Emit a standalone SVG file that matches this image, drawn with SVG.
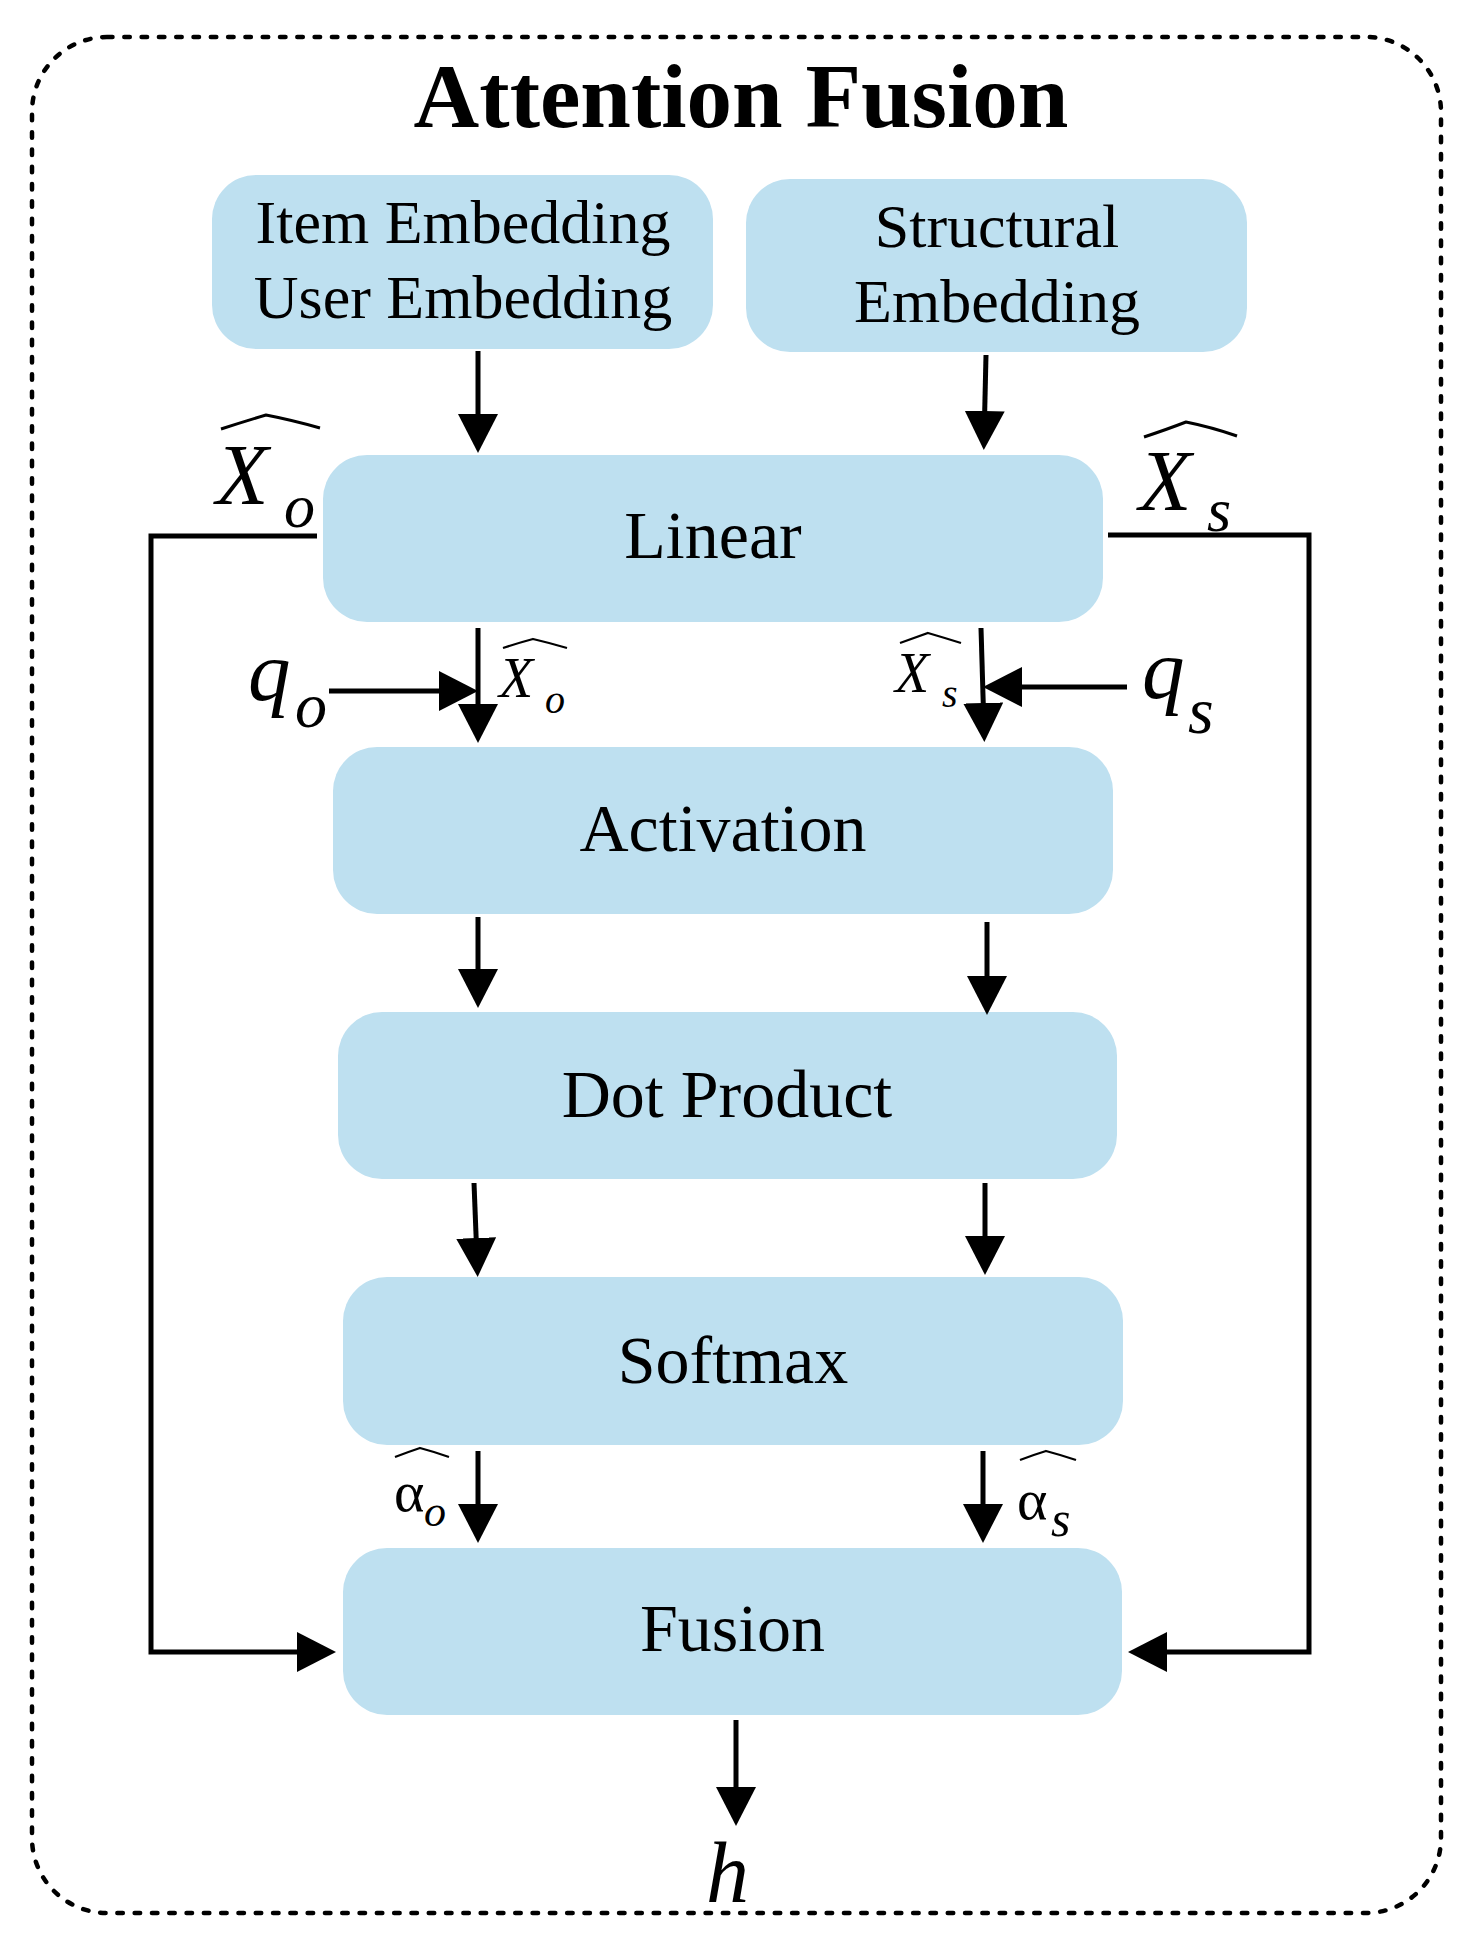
<svg xmlns="http://www.w3.org/2000/svg" width="1471" height="1948" viewBox="0 0 1471 1948">
<style>
.box{fill:#BEE0F0}
.lbl{font-family:"Liberation Serif","Times New Roman",serif;fill:#000;text-anchor:middle}
.math{font-family:"Liberation Serif","Times New Roman",serif;font-style:italic;fill:#000}
.up{font-family:"Liberation Serif","Times New Roman",serif;fill:#000}
.con{fill:none;stroke:#000;stroke-width:5}
.hat{fill:none;stroke:#000;stroke-width:3;stroke-linejoin:miter}
.hats{fill:none;stroke:#000;stroke-width:2.2;stroke-linejoin:miter}
</style>
<defs>
<marker id="ah" viewBox="0 0 39 40" markerWidth="39" markerHeight="40" refX="9" refY="20" orient="auto" markerUnits="userSpaceOnUse">
<path d="M0,0 L39,20 L0,40 z" fill="#000"/>
</marker>
</defs>
<rect x="32" y="37" width="1409" height="1876" rx="75" ry="75" fill="none" stroke="#000" stroke-width="4.5" stroke-dasharray="5.5 11.8" stroke-linecap="round"/>
<text class="lbl" x="741" y="127" font-size="91" font-weight="bold">Attention Fusion</text>

<g id="item-user-embedding">
<rect class="box" x="212" y="175" width="501" height="174" rx="44"/>
<text class="lbl" x="463" y="243" font-size="62">Item Embedding</text>
<text class="lbl" x="463" y="318" font-size="62">User Embedding</text>
</g>
<g id="structural-embedding">
<rect class="box" x="746" y="179" width="501" height="173" rx="44"/>
<text class="lbl" x="997" y="247" font-size="62">Structural</text>
<text class="lbl" x="997" y="322" font-size="62">Embedding</text>
</g>
<g id="linear">
<rect class="box" x="323" y="455" width="780" height="167" rx="44"/>
<text class="lbl" x="713" y="558" font-size="68">Linear</text>
</g>
<g id="activation">
<rect class="box" x="333" y="747" width="780" height="167" rx="44"/>
<text class="lbl" x="723" y="851" font-size="68">Activation</text>
</g>
<g id="dot-product">
<rect class="box" x="338" y="1012" width="779" height="167" rx="44"/>
<text class="lbl" x="727" y="1117" font-size="68">Dot Product</text>
</g>
<g id="softmax">
<rect class="box" x="343" y="1277" width="780" height="168" rx="44"/>
<text class="lbl" x="733" y="1383" font-size="68">Softmax</text>
</g>
<g id="fusion">
<rect class="box" x="343" y="1548" width="779" height="167" rx="44"/>
<text class="lbl" x="732.5" y="1651" font-size="68">Fusion</text>
</g>

<g id="connectors">
<path class="con" d="M478,351 L478,423" marker-end="url(#ah)"/>
<path class="con" d="M986,355 L984.5,420" marker-end="url(#ah)"/>
<path class="con" d="M317,536 L151,536 L151,1652 L306,1652" marker-end="url(#ah)"/>
<path class="con" d="M1108,535 L1309,535 L1309,1652 L1158,1652" marker-end="url(#ah)"/>
<path class="con" d="M478,628 L478,713" marker-end="url(#ah)"/>
<path class="con" d="M329,691 L448,691" marker-end="url(#ah)"/>
<path class="con" d="M981,628 L983.5,712" marker-end="url(#ah)"/>
<path class="con" d="M1127,687 L1013,687" marker-end="url(#ah)"/>
<path class="con" d="M478,917 L478,978" marker-end="url(#ah)"/>
<path class="con" d="M987,922 L987,985" marker-end="url(#ah)"/>
<path class="con" d="M474,1183 L476.5,1247" marker-end="url(#ah)"/>
<path class="con" d="M985,1183 L985,1245" marker-end="url(#ah)"/>
<path class="con" d="M478,1451 L478,1513" marker-end="url(#ah)"/>
<path class="con" d="M983,1451 L983,1513" marker-end="url(#ah)"/>
<path class="con" d="M736,1720 L736,1796" marker-end="url(#ah)"/>
</g>

<g id="labels">
<text class="math" x="216" y="504" font-size="86">X</text>
<text class="math" x="284" y="527" font-size="62">o</text>
<path class="hat" d="M221,429 Q246,421 266,415 Q292,420 320,428"/>

<text class="math" x="1139" y="510" font-size="86">X</text>
<text class="math" x="1207" y="531" font-size="62">s</text>
<path class="hat" d="M1144,437 Q1168,429 1186,422 Q1211,427 1237,436"/>

<text class="math" x="248" y="700" font-size="85">q</text>
<text class="math" x="295" y="727" font-size="64">o</text>

<text class="math" x="499" y="697" font-size="56">X</text>
<text class="math" x="545" y="713" font-size="40">o</text>
<path class="hats" d="M503,648 Q518,643 533,639 Q550,643 567,648"/>

<text class="math" x="1142" y="698" font-size="85">q</text>
<text class="math" x="1188" y="733" font-size="66">s</text>

<text class="math" x="895" y="692" font-size="56">X</text>
<text class="math" x="942" y="707" font-size="40">s</text>
<path class="hats" d="M900,643 Q914,638 928,633 Q945,638 961,643"/>

<text class="up" x="394" y="1511" font-size="58">α</text>
<text class="math" x="424" y="1526" font-size="44">o</text>
<path class="hats" d="M395,1457 Q408,1452 420,1448 Q435,1452 449,1457"/>

<text class="up" x="1017" y="1519" font-size="58">α</text>
<text class="math" x="1051" y="1536" font-size="50">s</text>
<path class="hats" d="M1020,1460 Q1033,1455 1046,1451 Q1061,1455 1076,1460"/>

<text class="math" x="706" y="1902" font-size="86">h</text>
</g>
</svg>
